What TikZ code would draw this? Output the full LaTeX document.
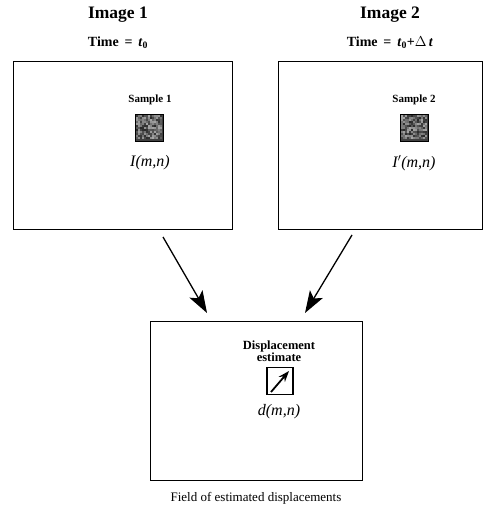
\documentclass[tikz,border=0pt]{standalone}
\usepackage{fontspec}
\setmainfont{Liberation Serif}
\usetikzlibrary{arrows.meta}
\begin{document}
\begin{tikzpicture}[x=1pt,y=-1pt,
  frame/.style={draw,line width=1.3pt},
  title/.style={font=\bfseries\fontsize{17.5}{19}\selectfont},
  timelbl/.style={font=\bfseries\fontsize{14}{16}\selectfont},
  smallb/.style={font=\bfseries\fontsize{11}{11}\selectfont, align=center},
  dispb/.style={font=\bfseries\fontsize{12.5}{12}\selectfont, align=center},
  fn/.style={font=\itshape\fontsize{16}{18}\selectfont},
  bigarrow/.style={-{Stealth[length=22pt,width=15pt,inset=5pt]},line width=1.3pt}]
\useasboundingbox (0,0) rectangle (488,521);
% frames
\node[frame,minimum width=219pt,minimum height=168pt,anchor=north west,inner sep=0] (img1) at (13,61) {};
\node[frame,minimum width=204pt,minimum height=168pt,anchor=north west,inner sep=0] (img2) at (278,61) {};
\node[frame,minimum width=212pt,minimum height=159pt,anchor=north west,inner sep=0] (fld) at (150,321) {};
% titles
\node[title] (t1) at (118,15) {Image 1};
\node[timelbl] (tm1) at (118,43) {Time \,=\, \textit{t}\textsubscript{0}};
\node[title] (t2) at (390,15) {Image 2};
\node[timelbl] (tm2) at (390,43) {Time \,=\, \textit{t}\textsubscript{0}+$\Delta$\,\textit{t}};
% samples
\node[smallb] (s1) at (150,100) {Sample 1};
\node[smallb] (s2) at (414,100) {Sample 2};
\pgfmathsetseed{7}
\foreach \cx/\nm in {135/q1,400/q2}{
  \fill[black!75] (\cx,114) rectangle ++(28,27);
  \foreach \i in {0,...,12}{
    \foreach \j in {0,...,11}{
      \pgfmathsetmacro{\g}{int(35+50*rnd)}
      \fill[black!\g] ({\cx+1+\i*2},{115+\j*2}) rectangle ++(2,2);
    }
  }
  \node[draw,line width=1pt,minimum width=28pt,minimum height=27pt,inner sep=0,anchor=north west] (\nm) at (\cx,114) {};
}
\node[fn] (i1) at (150,163) {I(m,n)};
\node[fn] (i2) at (414,163) {I$'$(m,n)};
% displacement
\node[dispb] (de) at (279,351) {Displacement\\estimate};
\node[draw,line width=1.1pt,minimum width=26pt,minimum height=27pt,inner sep=0] (dbox) at (280,381) {};
\coordinate (da) at (271,392);
\coordinate (db) at (289,371);
\draw[line width=1.8pt,-{Stealth[length=11pt,width=8pt]}] (da) -- (db);
\node[fn] (dmn) at (279,412) {d(m,n)};
\node[font=\fontsize{13}{15}\selectfont] (cap) at (256,498) {Field of estimated displacements};
% arrows
\coordinate (a1s) at (163,237);
\coordinate (a1e) at (207,313);
\coordinate (a2s) at (352,235);
\coordinate (a2e) at (305,313);
\draw[bigarrow] (a1s) -- (a1e);
\draw[bigarrow] (a2s) -- (a2e);
\end{tikzpicture}
\end{document}
